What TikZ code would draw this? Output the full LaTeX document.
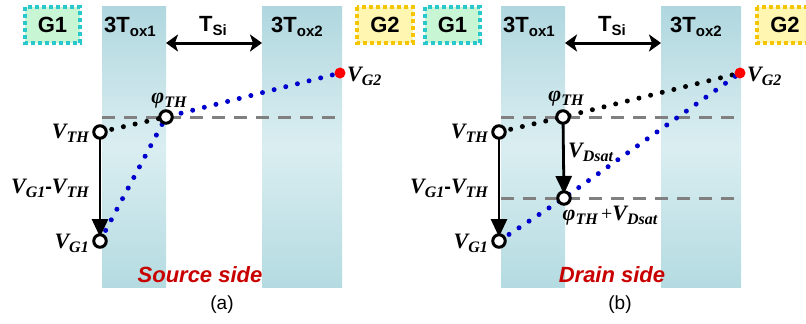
\documentclass[tikz,border=0pt]{standalone}
\usepackage{fontspec}
\setmainfont{Liberation Sans}
\newfontfamily\tnr{Liberation Serif}
\usetikzlibrary{arrows.meta}
\definecolor{oxtop}{RGB}{176,215,223}
\definecolor{oxmid}{RGB}{218,238,241}
\definecolor{oxbot}{RGB}{180,219,225}
\definecolor{gone}{RGB}{200,245,212}
\definecolor{gonebd}{RGB}{40,200,205}
\definecolor{gtwo}{RGB}{255,246,178}
\definecolor{gtwobd}{RGB}{245,198,0}
\definecolor{sidered}{RGB}{200,0,0}
\definecolor{dotblue}{RGB}{0,0,205}
\definecolor{dashgray}{RGB}{128,128,128}
\newcommand\mlab[2]{{\tnr\bfseries\itshape\fontsize{22}{22}\selectfont #1\raisebox{-4pt}{\fontsize{16}{16}\selectfont #2}}}
\newcommand\slab[2]{{\bfseries\fontsize{22}{22}\selectfont #1\raisebox{-4pt}{\fontsize{15}{15}\selectfont #2}}}
\newcommand\mhyph{{\bfseries\fontsize{20}{20}\selectfont -}}
\newcommand\mplus{{\tnr\fontsize{20}{20}\selectfont\,+}}
\tikzset{
  oxide/.style={top color=oxtop, bottom color=oxbot, middle color=oxmid, draw=none},
  gonebox/.style={fill=gone, draw=gonebd, line width=3.5pt, dash pattern=on 4pt off 3pt},
  gtwobox/.style={fill=gtwo, draw=gtwobd, line width=3.5pt, dash pattern=on 4pt off 3pt},
  gtext/.style={font=\bfseries\fontsize{22}{22}\selectfont, inner sep=0pt},
  ring/.style={circle, draw=black, fill=white, line width=3pt, minimum size=12.5pt, inner sep=0pt},
  reddot/.style={circle, fill=red, minimum size=11pt, inner sep=0pt},
  dotline/.style={line width=5pt, line cap=round, dash pattern=on 0pt off 12pt},
  dashln/.style={draw=dashgray, line width=3pt, dash pattern=on 13pt off 9pt},
  varr/.style={line width=2.8pt, -{Triangle[length=18pt,width=16pt]}, shorten >=4pt},
  tarr/.style={line width=3pt, {Stealth[length=12pt,width=17pt,inset=3pt]}-{Stealth[length=12pt,width=17pt,inset=3pt]}},
  lab/.style={inner sep=0pt},
  side/.style={text=sidered, font=\bfseries\itshape\fontsize{22}{22}\selectfont, inner sep=0pt},
  captext/.style={font=\fontsize{19}{19}\selectfont, inner sep=0pt}
}
\begin{document}
\begin{tikzpicture}[x=1pt,y=-1pt]
\useasboundingbox (0,0) rectangle (806,324);
% ---------- panel (a) ----------
\shade[oxide] (102,6) rectangle (166,287);
\shade[oxide] (262,6) rectangle (342,287);
\draw[gonebox] (25,7) rectangle (80,43);
\node[gtext] (ga1) at (52.5,25) {G1};
\draw[gtwobox] (357,7) rectangle (413,43);
\node[gtext] (ga2) at (385,25) {G2};
\node[lab] (oxa1) at (130,27) {\slab{3T}{ox1}};
\node[lab] (tsia) at (213,26) {\slab{T}{Si}};
\node[lab] (oxa2) at (297,27) {\slab{3T}{ox2}};
\coordinate (ta1) at (166,43);
\coordinate (ta2) at (262,43);
\draw[tarr] (ta1) -- (ta2);
\coordinate (dla1) at (102,117);
\coordinate (dla2) at (342,117);
\draw[dashln] (dla1) -- (dla2);
\coordinate (vtha) at (100,132);
\coordinate (vg1a) at (100,241);
\coordinate (phia) at (166,117);
\coordinate (vg2a) at (340,73);
\draw[dotline, black] (vtha) -- (phia);
\draw[dotline, dotblue] (vg1a) -- (phia) -- (vg2a);
\draw[varr] (vtha) -- (vg1a);
\node[ring] (rvtha) at (vtha) {};
\node[ring] (rvg1a) at (vg1a) {};
\node[ring] (rphia) at (phia) {};
\node[reddot] (rvg2a) at (vg2a) {};
\node[lab, anchor=west] at (347,76) {\mlab{V}{G2}};
\node[lab] at (169,101) {\mlab{φ}{TH}};
\node[lab, anchor=east] at (89,133) {\mlab{V}{TH}};
\node[lab, anchor=east] at (89,243) {\mlab{V}{G1}};
\node[lab] at (50,188) {\mlab{V}{G1}\mhyph\mlab{V}{TH}};
\node[side] at (200,275) {Source side};
\node[captext] at (222,305) {(a)};
% ---------- panel (b) ----------
\shade[oxide] (501,6) rectangle (565,287);
\shade[oxide] (661,6) rectangle (741,287);
\draw[gonebox] (425,7) rectangle (480,43);
\node[gtext] (gb1) at (452.5,25) {G1};
\draw[gtwobox] (757,7) rectangle (813,43);
\node[gtext] (gb2) at (785,25) {G2};
\node[lab] (oxb1) at (529,27) {\slab{3T}{ox1}};
\node[lab] (tsib) at (612,26) {\slab{T}{Si}};
\node[lab] (oxb2) at (696,27) {\slab{3T}{ox2}};
\coordinate (tb1) at (565,43);
\coordinate (tb2) at (661,43);
\draw[tarr] (tb1) -- (tb2);
\coordinate (dlb1) at (501,117);
\coordinate (dlb2) at (741,117);
\draw[dashln] (dlb1) -- (dlb2);
\coordinate (dlb3) at (501,198);
\coordinate (dlb4) at (741,198);
\draw[dashln] (dlb3) -- (dlb4);
\coordinate (vthb) at (499,132);
\coordinate (vg1b) at (499,241);
\coordinate (phib) at (563,117);
\coordinate (pdb) at (564,198);
\coordinate (vg2b) at (740,73);
\draw[dotline, black] (vthb) -- (phib) -- (vg2b);
\draw[dotline, dotblue] (vg1b) -- (pdb) -- (vg2b);
\draw[varr] (vthb) -- (vg1b);
\draw[varr] (phib) -- (pdb);
\node[ring] (rvthb) at (vthb) {};
\node[ring] (rvg1b) at (vg1b) {};
\node[ring] (rphib) at (phib) {};
\node[ring] (rpdb) at (pdb) {};
\node[reddot] (rvg2b) at (vg2b) {};
\node[lab, anchor=west] at (747,76) {\mlab{V}{G2}};
\node[lab] at (566,99) {\mlab{φ}{TH}};
\node[lab, anchor=east] at (488,133) {\mlab{V}{TH}};
\node[lab, anchor=east] at (488,243) {\mlab{V}{G1}};
\node[lab] at (449,188) {\mlab{V}{G1}\mhyph\mlab{V}{TH}};
\node[lab, anchor=west] at (568,152) {\mlab{V}{Dsat}};
\node[lab] at (610,216) {\mlab{φ}{TH}\mplus\mlab{V}{Dsat}};
\node[side] at (612,275) {Drain side};
\node[captext] at (620,305) {(b)};
\end{tikzpicture}
\end{document}
